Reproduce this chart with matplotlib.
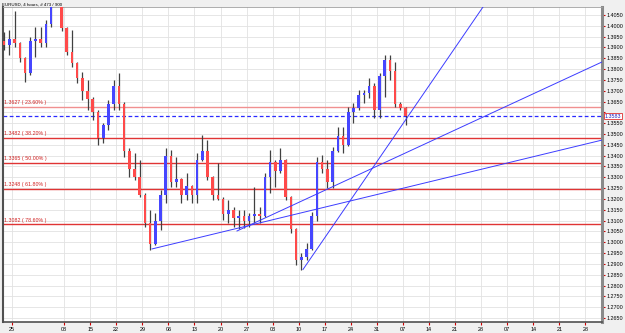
import matplotlib
matplotlib.use("Agg")
import matplotlib.pyplot as plt
from matplotlib.patches import Rectangle
from matplotlib import font_manager

# ---------------- data (daily candles) ----------------
days = list(range(-2, 76))
opens = [1.3930, 1.3910, 1.3940, 1.3920, 1.3850, 1.3780, 1.3930, 1.3940, 1.3920, 1.4010,
         1.4140, 1.4220, 1.3990, 1.3880, 1.3830, 1.3760, 1.3700, 1.3660, 1.3600, 1.3480,
         1.3540, 1.3640, 1.3720, 1.3640, 1.3420, 1.3340, 1.3300, 1.3220, 1.3090, 1.2990,
         1.3100, 1.3220, 1.3400, 1.3280, 1.3290, 1.3220, 1.3260, 1.3220, 1.3380, 1.3420,
         1.3300, 1.3220, 1.3200, 1.3130, 1.3150, 1.3110, 1.3120, 1.3100, 1.3120, 1.3130,
         1.3120, 1.3300, 1.3370, 1.3330, 1.3380, 1.3210, 1.3060, 1.2920, 1.2930, 1.2970,
         1.3120, 1.3370, 1.3340, 1.3280, 1.3420, 1.3490, 1.3450, 1.3600, 1.3620, 1.3680,
         1.3690, 1.3720, 1.3610, 1.3770, 1.3840, 1.3790, 1.3640, 1.3620]
highs = [1.3971, 1.3981, 1.4070, 1.3925, 1.3855, 1.3948, 1.3995, 1.3995, 1.4027, 1.4150,
         1.4282, 1.4230, 1.3995, 1.3981, 1.3835, 1.3787, 1.3750, 1.3671, 1.3611, 1.3551,
         1.3657, 1.3750, 1.3782, 1.3650, 1.3435, 1.3412, 1.3380, 1.3227, 1.3149, 1.3135,
         1.3241, 1.3435, 1.3426, 1.3394, 1.3295, 1.3320, 1.3265, 1.3412, 1.3495, 1.3472,
         1.3305, 1.3366, 1.3209, 1.3195, 1.3163, 1.3149, 1.3149, 1.3135, 1.3255, 1.3163,
         1.3320, 1.3426, 1.3380, 1.3435, 1.3385, 1.3215, 1.3065, 1.2950, 1.2996, 1.3140,
         1.3394, 1.3403, 1.3380, 1.3440, 1.3532, 1.3532, 1.3625, 1.3643, 1.3703, 1.3703,
         1.3760, 1.3736, 1.3782, 1.3865, 1.3865, 1.3833, 1.3650, 1.3625]
lows = [1.3888, 1.3865, 1.3902, 1.3833, 1.3740, 1.3775, 1.3856, 1.3902, 1.3902, 1.3995,
        1.4120, 1.3975, 1.3865, 1.3810, 1.3736, 1.3657, 1.3611, 1.3565, 1.3449, 1.3458,
        1.3519, 1.3611, 1.3611, 1.3394, 1.3301, 1.3288, 1.3209, 1.3070, 1.2964, 1.2985,
        1.3057, 1.3181, 1.3255, 1.3255, 1.3181, 1.3195, 1.3181, 1.3181, 1.3375, 1.3288,
        1.3195, 1.3195, 1.3103, 1.3089, 1.3070, 1.3062, 1.3066, 1.3070, 1.3089, 1.3089,
        1.3115, 1.3227, 1.3255, 1.3320, 1.3195, 1.3043, 1.2895, 1.2872, 1.2918, 1.2964,
        1.3100, 1.3320, 1.3250, 1.3250, 1.3415, 1.3412, 1.3445, 1.3551, 1.3611, 1.3643,
        1.3667, 1.3574, 1.3574, 1.3671, 1.3750, 1.3625, 1.3610, 1.3542]
closes = [1.3910, 1.3940, 1.3920, 1.3850, 1.3780, 1.3930, 1.3940, 1.3920, 1.4010, 1.4140,
          1.4220, 1.3990, 1.3880, 1.3830, 1.3760, 1.3700, 1.3660, 1.3600, 1.3480, 1.3540,
          1.3640, 1.3720, 1.3640, 1.3420, 1.3340, 1.3300, 1.3220, 1.3090, 1.2990, 1.3100,
          1.3220, 1.3400, 1.3280, 1.3290, 1.3220, 1.3260, 1.3220, 1.3380, 1.3420, 1.3300,
          1.3220, 1.3200, 1.3130, 1.3150, 1.3110, 1.3120, 1.3100, 1.3120, 1.3130, 1.3120,
          1.3300, 1.3370, 1.3330, 1.3380, 1.3210, 1.3060, 1.2920, 1.2930, 1.2970, 1.3120,
          1.3370, 1.3340, 1.3280, 1.3420, 1.3490, 1.3450, 1.3600, 1.3620, 1.3680, 1.3690,
          1.3720, 1.3610, 1.3770, 1.3840, 1.3790, 1.3640, 1.3620, 1.3583]

tick_days = [0, 10, 15, 20, 25, 30, 35, 40, 45, 50, 55, 60, 65, 70, 75, 80, 85, 90, 95,
             100, 105, 110]
tick_labels = ["25", "08", "15", "22", "29", "06", "13", "20", "27", "03", "10", "17",
               "24", "31", "07", "14", "21", "28", "07", "14", "21", "28"]

price_ticks = [round(1.2650 + 0.005 * i, 4) for i in range(29)]

fib_levels = [1.3627, 1.3482, 1.3365, 1.3248, 1.3082]
fib_pcts = ["23.60%", "38.20%", "50.00%", "61.80%", "78.60%"]
current_price = 1.3583

# trend lines: two anchor points (day position, price)
trend_lines = [((26.86, 1.2969), (113.18, 1.3472)),
               ((43.16, 1.3052), (113.18, 1.3833)),
               ((55.82, 1.2874), (90.35, 1.4087))]

title = "EURUSD, 4 hours, # 473 / 900"

# ---------------- fonts ----------------
names = {f.name for f in font_manager.fontManager.ttflist}
if "Liberation Sans Narrow" in names:
    font = ["Liberation Sans Narrow", "DejaVu Sans"]
    fs_tick, fs_lab, fs_title = 4.6, 4.3, 3.6
else:
    font = ["Liberation Sans", "DejaVu Sans"]
    fs_tick, fs_lab, fs_title = 3.9, 3.8, 3.15

# ---------------- figure ----------------
W, H = 625, 333
fig = plt.figure(figsize=(W / 100, H / 100), dpi=100, facecolor="#f0f0f0")
ax = fig.add_axes([3 / W, 1 - 322 / H, 599 / W, 315 / H])
ax.set_facecolor("white")

XMIN, XMAX = -1.726, 113.18
YMIN, YMAX = 1.26314, 1.40870
ax.set_xlim(XMIN, XMAX)
ax.set_ylim(YMIN, YMAX)

# grid
for p in price_ticks:
    ax.axhline(p, color="#e2e2e2", lw=0.6, zorder=0)
for d in tick_days:
    ax.axvline(d, color="#e2e2e2", lw=0.6, zorder=0)

# fib levels
for lev, pct in zip(fib_levels, fib_pcts):
    col = "#f09090" if pct == "23.60%" else "#e03434"
    ax.axhline(lev, color=col, lw=1.0, zorder=1)
    ax.text(-1.45, lev + 0.0009, f"{lev:.4f} ( {pct} )", color="#d02020",
            fontsize=fs_lab, family=font, va="bottom", ha="left", zorder=5)

# current price dashed line
ax.axhline(current_price, color="#2a2aff", lw=0.9, ls=(0, (3, 2)), zorder=1)

# candles
body_w = 0.5
for d, o, h, l, c in zip(days, opens, highs, lows, closes):
    x = d + 0.5
    ax.plot([x, x], [l, h], color="#404040", lw=0.9, zorder=3, solid_capstyle="butt")
    up = c >= o
    col = "#4646ff" if up else "#ff4a4a"
    bot = min(o, c)
    ht = max(abs(c - o), 0.0003)
    ax.add_patch(Rectangle((x - body_w / 2, bot), body_w, ht, facecolor=col,
                           edgecolor="none", zorder=4))

# trend lines (rays to the right edge)
for (x1, y1), (x2, y2) in trend_lines:
    slope = (y2 - y1) / (x2 - x1)
    ax.plot([x1, XMAX], [y1, y1 + slope * (XMAX - x1)], color="#3c3cff", lw=0.7,
            zorder=6)

# axes styling
ax.yaxis.tick_right()
ax.set_yticks(price_ticks)
ax.set_yticklabels(["" if abs(p - 1.36) < 1e-6 else f"{p:.4f}" for p in price_ticks])
ax.set_xticks(tick_days)
ax.set_xticklabels(tick_labels)
ax.tick_params(axis="y", colors="#cc0000", length=2, width=0.8, pad=1.0,
               labelsize=fs_tick, labelcolor="black")
ax.tick_params(axis="x", colors="#cc0000", length=2, width=0.8, pad=1.5,
               labelsize=fs_tick, labelcolor="black")
for lab in ax.get_xticklabels() + ax.get_yticklabels():
    lab.set_family(font)

ax.spines["left"].set_color("#505050")
ax.spines["left"].set_linewidth(1.5)
ax.spines["bottom"].set_color("#505050")
ax.spines["bottom"].set_linewidth(1.2)
ax.spines["right"].set_color("#8a8a8a")
ax.spines["right"].set_linewidth(2.2)
ax.spines["top"].set_color("#a0a0a0")
ax.spines["top"].set_linewidth(0.6)

# current price box on the right axis
ax.text(1.0045, (current_price - YMIN) / (YMAX - YMIN), f"{current_price:.4f}",
        transform=ax.transAxes, fontsize=fs_tick, family=font, color="#2020c0",
        va="center", ha="left", zorder=10,
        bbox=dict(boxstyle="square,pad=0.15", fc="white", ec="#e03030", lw=0.6))

fig.text(2 / W, 1 - 4.5 / H, title, fontsize=fs_title, family=font, color="black",
         va="center", ha="left")

fig.savefig("out.png", dpi=100, facecolor=fig.get_facecolor())
